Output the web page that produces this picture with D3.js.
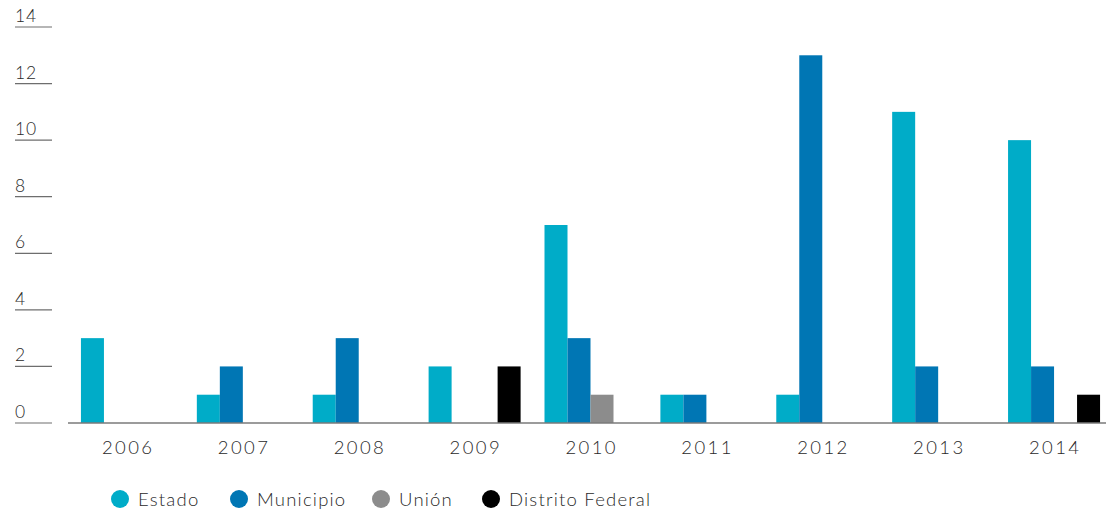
<!DOCTYPE html>
<html>
<head>
<meta charset="utf-8">
<script src="https://cdn.jsdelivr.net/npm/d3@7"></script>
<style>
  html, body { margin: 0; padding: 0; background: #fff; }
  svg { display: block; font-family: "Lato", "Open Sans", sans-serif; }
</style>
</head>
<body>
<svg id="chart" width="1106" height="511"></svg>
<script>
// Years on the category axis
const years = ["2006", "2007", "2008", "2009", "2010", "2011", "2012", "2013", "2014"];
// Series names, in bar order within each year
const seriesNames = ["Estado", "Municipio", "Unión", "Distrito Federal"];
const seriesColors = ["#00acc8", "#0076b4", "#8c8c8c", "#000000"];
// Counts per year
const estado = [3, 1, 1, 2, 7, 1, 1, 11, 10];
const municipio = [0, 2, 3, 0, 3, 1, 13, 2, 2];
const union = [0, 0, 0, 0, 1, 0, 0, 0, 0];
const distritoFederal = [0, 0, 0, 2, 0, 0, 0, 0, 1];
// Y tick values
const yTicks = [0, 2, 4, 6, 8, 10, 12, 14];

const seriesValues = [estado, municipio, union, distritoFederal];

const svg = d3.select("#chart");

const y = d3.scaleLinear().domain([0, 14]).range([423, 27]);
const x0 = d3.scaleBand().domain(years).range([69, 1112]).padding(0);
const groupWidth = 92;
const x1 = d3.scaleBand().domain(seriesNames).range([0, groupWidth]).padding(0);

// Y axis: short rules with labels sitting on top
const yAxis = svg.append("g");
yTicks.forEach(t => {
  yAxis.append("line")
    .attr("x1", 15).attr("x2", 52)
    .attr("y1", y(t)).attr("y2", y(t))
    .attr("stroke", "#6e6e6e").attr("stroke-width", 1.2);
  yAxis.append("text")
    .attr("x", 15).attr("y", y(t) - 5)
    .attr("font-size", 17.5).attr("font-weight", 300)
    .attr("letter-spacing", 0.8)
    .attr("fill", "#2a2a2a")
    .text(t);
});

// Bars
const bars = svg.append("g");
years.forEach((yr, i) => {
  const gx = x0(yr) + (x0.bandwidth() - groupWidth) / 2;
  seriesNames.forEach((s, j) => {
    const v = seriesValues[j][i];
    if (v <= 0) return;
    bars.append("rect")
      .attr("x", gx + x1(s))
      .attr("y", y(v))
      .attr("width", x1.bandwidth())
      .attr("height", y(0) - y(v))
      .attr("fill", seriesColors[j]);
  });
});

// Baseline
svg.append("line")
  .attr("x1", 68).attr("x2", 1106)
  .attr("y1", y(0)).attr("y2", y(0))
  .attr("stroke", "#7a7a7a").attr("stroke-width", 1.5);

// X labels
svg.append("g").selectAll("text").data(years).join("text")
  .attr("x", d => x0(d) + x0.bandwidth() / 2 + 1.2)
  .attr("y", 454)
  .attr("text-anchor", "middle")
  .attr("font-size", 18.5).attr("font-weight", 300)
  .attr("letter-spacing", 2.4)
  .attr("fill", "#2a2a2a")
  .text(d => d);

// Legend
const legendX = [120, 239, 381, 491];
const legend = svg.append("g");
seriesNames.forEach((s, j) => {
  legend.append("circle")
    .attr("cx", legendX[j]).attr("cy", 499).attr("r", 9)
    .attr("fill", seriesColors[j]);
  legend.append("text")
    .attr("x", legendX[j] + 18).attr("y", 505.5)
    .attr("font-size", 18.5).attr("font-weight", 300)
    .attr("letter-spacing", 1.2)
    .attr("fill", "#2a2a2a")
    .text(s);
});
</script>
</body>
</html>
